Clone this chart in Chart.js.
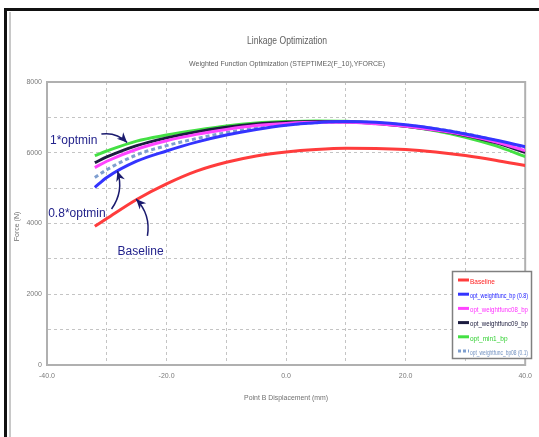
<!DOCTYPE html>
<html>
<head>
<meta charset="utf-8">
<script src="https://cdn.jsdelivr.net/npm/chart.js@4"></script>
<style>
  html, body { margin: 0; padding: 0; background: #fff; }
  #wrap { position: relative; width: 539px; height: 437px; overflow: hidden; }
  #c { position: absolute; left: 0; top: 0; }
  #frame { position: absolute; left: 4px; top: 8px; width: 560px; height: 440px;
           border-left: 3px solid #111; border-top: 3px solid #111; pointer-events: none; }
  #frame2 { position: absolute; left: 9px; top: 12px; width: 0; height: 430px; border-left: 2px solid #c8c8c8; pointer-events: none; }
</style>
</head>
<body>
<div id="wrap">
  <canvas id="c" width="539" height="437"></canvas>
  <div id="frame"></div>
  <div id="frame2"></div>
</div>
<script>
// ---- data ----
const titleText = "Linkage Optimization";
const subtitleText = "Weighted Function Optimization (STEPTIME2(F_10),YFORCE)";
const xTitle = "Point B Displacement (mm)";
const yTitle = "Force (N)";

const xValues = [-32, -30, -25, -20, -15, -10, -5, 0, 5, 10, 15, 20, 25, 30, 35, 40];

const seriesNames = ["Baseline", "opt_weightfunc_bp (0.8)", "opt_weightfunc08_bp", "opt_weightfunc09_bp", "opt_min1_bp", "opt_weightfunc_bp08 (0.1)"];

const baseline   = [3920, 4140, 4680, 5120, 5480, 5730, 5910, 6020, 6090, 6125, 6120, 6090, 6020, 5920, 5790, 5640];
const optBlue    = [5020, 5300, 5760, 6050, 6300, 6500, 6660, 6780, 6850, 6880, 6860, 6790, 6680, 6530, 6360, 6170];
const optMagenta = [5580, 5760, 6100, 6340, 6520, 6660, 6770, 6830, 6860, 6860, 6820, 6750, 6640, 6500, 6310, 6060];
const optBlack   = [5720, 5880, 6200, 6420, 6590, 6720, 6810, 6860, 6880, 6870, 6830, 6750, 6640, 6490, 6290, 6010];
const optGreen   = [5920, 6050, 6330, 6500, 6640, 6760, 6840, 6880, 6900, 6890, 6840, 6750, 6620, 6440, 6200, 5890];
const optDashed  = [5300, 5520, 5940, 6200, 6400, 6570, 6700, 6790, 6850, 6870, 6850, 6780, 6680, 6540, 6350, 6100];

const yTickLabels = ["0", "2000", "4000", "6000", "8000"];
const xTickLabels = ["-40.0", "-20.0", "0.0", "20.0", "40.0"];

// annotations (data coordinates): text, text position, arrow start, arrow tip
const annotations = [
  { text: "1*optmin",   tx: -39.5, ty: 6340, sx: -30.9, sy: 6530, ex: -26.6, ey: 6290, bend: -1 },
  { text: "0.8*optmin", tx: -39.8, ty: 4270, sx: -29.2, sy: 4410, ex: -28.2, ey: 5480, bend: 1 },
  { text: "Baseline",   tx: -28.2, ty: 3200, sx: -23.2, sy: 3650, ex: -25.1, ey: 4690, bend: 1 }
];

// ---- styles ----
const colors = ["#ff3c3c", "#3434ff", "#ff44ff", "#1c1c40", "#44e044", "#7f9fcf"];
const legendTextColors = ["#ff2020", "#2020ff", "#ff30ff", "#202040", "#30d030", "#7090c0"];
const allSeries = [baseline, optBlue, optMagenta, optBlack, optGreen, optDashed];
const sans = "'Liberation Sans', Arial, sans-serif";

const datasets = allSeries.map((arr, i) => ({
  label: seriesNames[i],
  data: xValues.map((x, j) => ({ x: x, y: arr[j] })),
  borderColor: colors[i],
  borderWidth: 3,
  borderDash: i === 5 ? [4, 3] : [],
  pointRadius: 0,
  fill: false,
  cubicInterpolationMode: 'monotone'
}));

function fitText(ctx, text, x, y, width, align) {
  const w = ctx.measureText(text).width;
  const s = Math.min(1, width / w);
  ctx.save();
  ctx.translate(x, y);
  ctx.scale(s, 1);
  ctx.textAlign = align;
  ctx.fillText(text, 0, 0);
  ctx.restore();
}

const overlay = {
  id: 'overlay',
  beforeDatasetsDraw(chart) {
    const { ctx, chartArea: a } = chart;
    ctx.save();
    ctx.strokeStyle = '#b0b0b0';
    ctx.lineWidth = 2;
    ctx.strokeRect(a.left, a.top, a.right - a.left, a.bottom - a.top);
    ctx.restore();
  },
  afterDraw(chart) {
    const { ctx, chartArea: a, scales } = chart;
    const xs = scales.x, ys = scales.y;
    ctx.save();
    // titles
    const cx = (a.left + a.right) / 2;
    ctx.fillStyle = '#606060';
    ctx.textBaseline = 'middle';
    ctx.font = "11px " + sans;
    fitText(ctx, titleText, cx + 1, 41, 80, 'center');
    ctx.font = "7.5px " + sans;
    fitText(ctx, subtitleText, cx + 1, 64, 196, 'center');
    ctx.fillStyle = '#707070';
    ctx.font = "8px " + sans;
    fitText(ctx, xTitle, cx, 398, 84, 'center');
    ctx.save();
    ctx.translate(17, (a.top + a.bottom) / 2 + 3);
    ctx.rotate(-Math.PI / 2);
    ctx.font = "7px " + sans;
    ctx.textAlign = 'center';
    ctx.fillText(yTitle, 0, 0);
    ctx.restore();

    // legend box
    const lx = 452, ly = 271, lw = 79, lh = 87;
    ctx.fillStyle = '#fff';
    ctx.fillRect(lx, ly, lw, lh);
    ctx.strokeStyle = '#808080';
    ctx.lineWidth = 1.5;
    ctx.strokeRect(lx + 0.5, ly + 0.5, lw, lh);
    ctx.font = "6.5px " + sans;
    seriesNames.forEach((name, i) => {
      const yy = 280 + i * 14.2;
      ctx.strokeStyle = colors[i];
      ctx.lineWidth = 3;
      ctx.setLineDash(i === 5 ? [3, 2] : []);
      ctx.beginPath();
      ctx.moveTo(458, yy);
      ctx.lineTo(469, yy);
      ctx.stroke();
      ctx.setLineDash([]);
      ctx.fillStyle = legendTextColors[i];
      fitText(ctx, name, 470, yy + 2, 58, 'left');
    });

    // annotations
    ctx.font = "12px " + sans;
    ctx.textAlign = 'left';
    ctx.textBaseline = 'middle';
    annotations.forEach(an => {
      ctx.fillStyle = '#23238c';
      ctx.fillText(an.text, xs.getPixelForValue(an.tx), ys.getPixelForValue(an.ty));
      const sx = xs.getPixelForValue(an.sx), sy = ys.getPixelForValue(an.sy);
      const ex = xs.getPixelForValue(an.ex), ey = ys.getPixelForValue(an.ey);
      const mx = (sx + ex) / 2, my = (sy + ey) / 2;
      const dx = ex - sx, dy = ey - sy;
      const len = Math.hypot(dx, dy);
      const qx = mx + an.bend * (-dy / len) * len * 0.25;
      const qy = my + an.bend * (dx / len) * len * 0.25;
      ctx.strokeStyle = '#1a1a6e';
      ctx.lineWidth = 1.5;
      ctx.beginPath();
      ctx.moveTo(sx, sy);
      ctx.quadraticCurveTo(qx, qy, ex, ey);
      ctx.stroke();
      const ang = Math.atan2(ey - qy, ex - qx);
      const hl = 10, hw = 4.5;
      ctx.fillStyle = '#1a1a6e';
      ctx.beginPath();
      ctx.moveTo(ex, ey);
      ctx.lineTo(ex - hl * Math.cos(ang) + hw * Math.sin(ang), ey - hl * Math.sin(ang) - hw * Math.cos(ang));
      ctx.lineTo(ex - hl * 0.7 * Math.cos(ang), ey - hl * 0.7 * Math.sin(ang));
      ctx.lineTo(ex - hl * Math.cos(ang) - hw * Math.sin(ang), ey - hl * Math.sin(ang) + hw * Math.cos(ang));
      ctx.closePath();
      ctx.fill();
    });
    ctx.restore();
  }
};

new Chart(document.getElementById('c'), {
  type: 'line',
  data: { datasets: datasets },
  options: {
    responsive: false,
    animation: false,
    devicePixelRatio: 1,
    layout: { padding: { left: 0, top: 82, right: 8, bottom: 42 } },
    plugins: { legend: { display: false }, tooltip: { enabled: false }, title: { display: false } },
    scales: {
      x: {
        type: 'linear', min: -40, max: 40,
        afterFit: s => { s.height = 30; },
        afterBuildTicks: s => { s.ticks = [-40, -30, -20, -10, 0, 10, 20, 30, 40].map(v => ({ value: v })); },
        ticks: {
          autoSkip: false, maxRotation: 0, padding: 7,
          color: '#7a7a7a', font: { size: 7, family: sans },
          callback: v => (v % 20 === 0 ? xTickLabels[(v + 40) / 20] : '')
        },
        grid: { color: '#c4c4c4', tickLength: 0 },
        border: { color: '#b0b0b0', width: 2, dash: [3, 3] }
      },
      y: {
        type: 'linear', min: 0, max: 8000,
        afterFit: s => { s.width = 47; },
        afterBuildTicks: s => { s.ticks = [0, 1000, 2000, 3000, 4000, 5000, 6000, 7000, 8000].map(v => ({ value: v })); },
        ticks: {
          autoSkip: false, padding: 5,
          color: '#7a7a7a', font: { size: 7, family: sans },
          callback: v => (v % 2000 === 0 ? yTickLabels[v / 2000] : '')
        },
        grid: { color: '#c4c4c4', tickLength: 0 },
        border: { color: '#b0b0b0', width: 2, dash: [3, 3] }
      }
    }
  },
  plugins: [overlay]
});
</script>
</body>
</html>
